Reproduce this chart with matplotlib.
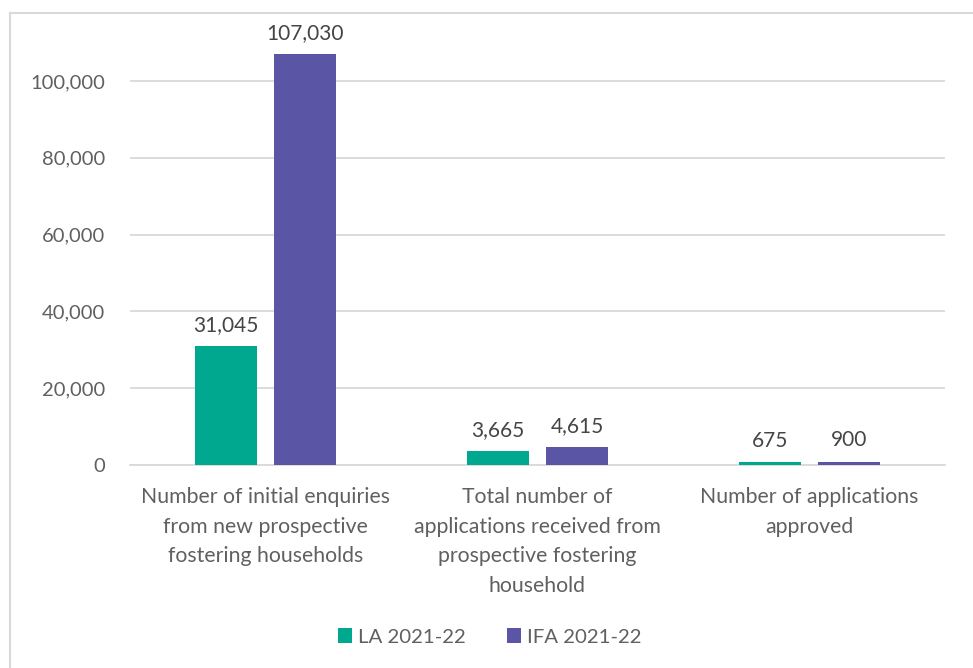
import matplotlib
matplotlib.use("Agg")
import matplotlib.pyplot as plt
import numpy as np
from matplotlib.ticker import FuncFormatter

categories = [
    "Number of initial enquiries\nfrom new prospective\nfostering households",
    "Total number of\napplications received from\nprospective fostering\nhousehold",
    "Number of applications\napproved",
]
series_names = ["LA 2021-22", "IFA 2021-22"]
la_values = [31045, 3665, 675]
ifa_values = [107030, 4615, 900]
yticks = [0, 20000, 40000, 60000, 80000, 100000]

colors = ["#00A88F", "#5B55A5"]
text_color = "#606060"
grid_color = "#D9D9D9"

plt.rcParams["font.family"] = ["Lato", "DejaVu Sans"]

fig = plt.figure(figsize=(9.73, 6.68), dpi=100)
ax = fig.add_axes([130 / 973, 1 - 465 / 668, (945 - 130) / 973, (465 - 30) / 668])

x = np.arange(len(categories))
width = 0.228
gap = 0.063
offsets = [-(width + gap) / 2, (width + gap) / 2]

for vals, off, col, name in zip([la_values, ifa_values], offsets, colors, series_names):
    bars = ax.bar(x + off, vals, width, color=col, label=name, zorder=3)
    for b, v in zip(bars, vals):
        ax.annotate(f"{v:,}", (b.get_x() + b.get_width() / 2, v),
                    xytext=(0, 8), textcoords="offset points",
                    ha="center", va="bottom", fontsize=15, color="#454545")

ax.set_xlim(-0.5, len(categories) - 0.5)
ax.set_ylim(0, 113280)
ax.set_yticks(yticks)
ax.yaxis.set_major_formatter(FuncFormatter(lambda v, p: f"{int(v):,}"))
ax.grid(axis="y", color=grid_color, linewidth=1.3, zorder=0)
for s in ["top", "right", "left"]:
    ax.spines[s].set_visible(False)
ax.spines["bottom"].set_color(grid_color)
ax.spines["bottom"].set_linewidth(1.3)
ax.tick_params(axis="both", length=0, labelcolor=text_color)
ax.tick_params(axis="y", pad=18, labelsize=14.5)
ax.tick_params(axis="x", pad=16, labelsize=15.3)
ax.set_xticks(x)
ax.set_xticklabels(categories, linespacing=1.6)

ax.legend(loc="center", bbox_to_anchor=(490 / 973, 1 - 637 / 668),
          bbox_transform=fig.transFigure, ncol=2, frameon=False,
          fontsize=14.7, handlelength=0.7, handleheight=0.7,
          columnspacing=2.0, handletextpad=0.3,
          labelcolor=text_color)

# chart area outline
fig.add_artist(plt.Line2D([10 / 973, 10 / 973], [0, 1 - 13 / 668],
                          transform=fig.transFigure, color="#D9D9D9", linewidth=1.5))
fig.add_artist(plt.Line2D([10 / 973, 1], [1 - 13 / 668, 1 - 13 / 668],
                          transform=fig.transFigure, color="#D9D9D9", linewidth=1.5))

fig.savefig("out.png", dpi=100, facecolor="white")
